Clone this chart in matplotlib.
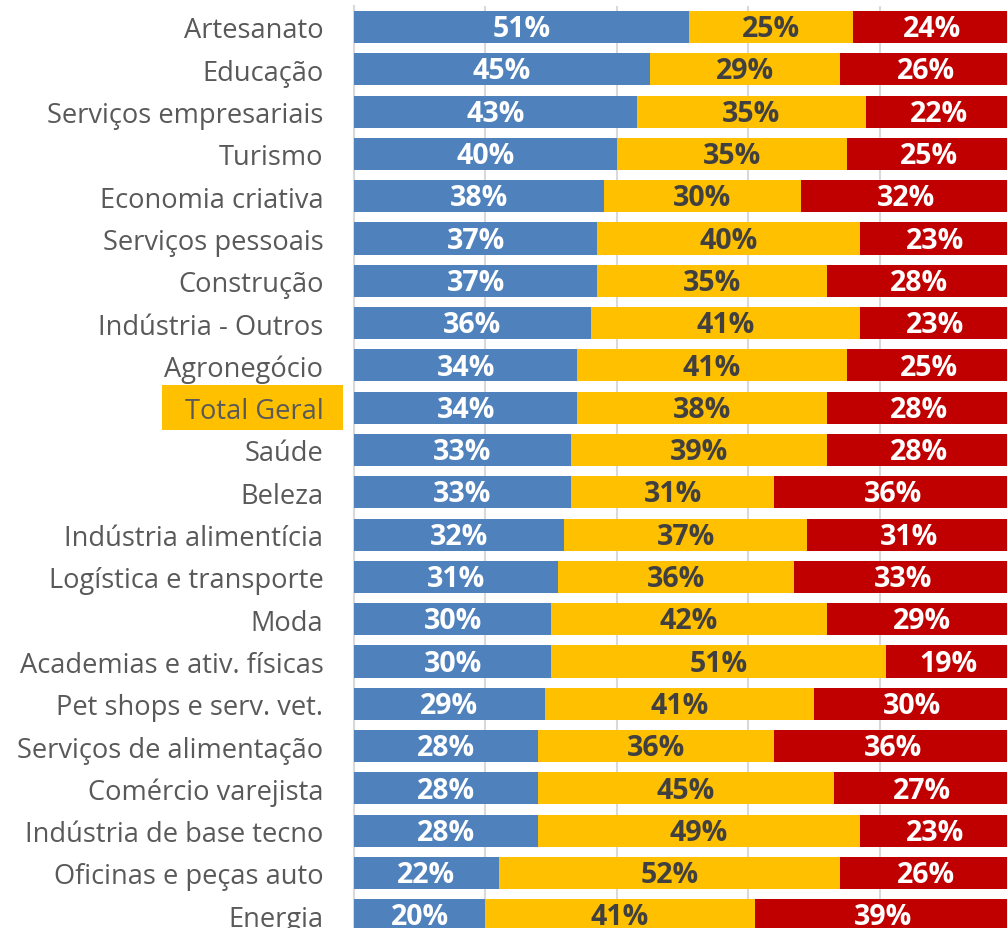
import matplotlib
matplotlib.use("Agg")
import matplotlib.pyplot as plt
from matplotlib.patches import Rectangle
import matplotlib.transforms as mtransforms

categories = ["Artesanato", "Educação", "Serviços empresariais", "Turismo",
              "Economia criativa", "Serviços pessoais", "Construção",
              "Indústria - Outros", "Agronegócio", "Total Geral", "Saúde",
              "Beleza", "Indústria alimentícia", "Logística e transporte",
              "Moda", "Academias e ativ. físicas", "Pet shops e serv. vet.",
              "Serviços de alimentação", "Comércio varejista",
              "Indústria de base tecno", "Oficinas e peças auto", "Energia"]
blue_vals = [51, 45, 43, 40, 38, 37, 37, 36, 34, 34, 33, 33, 32, 31, 30, 30, 29, 28, 28, 28, 22, 20]
yellow_vals = [25, 29, 35, 35, 30, 40, 35, 41, 41, 38, 39, 31, 37, 36, 42, 51, 41, 36, 45, 49, 52, 41]
red_vals = [24, 26, 22, 25, 32, 23, 28, 23, 25, 28, 28, 36, 31, 33, 29, 19, 30, 36, 27, 23, 26, 39]
highlight = "Total Geral"

BLUE = "#4F81BD"
YELLOW = "#FFC000"
RED = "#C00000"
TXT = "#595959"

plt.rcParams['font.family'] = ['Open Sans', 'DejaVu Sans']

W, H = 1007, 929
fig = plt.figure(figsize=(W / 100, H / 100), dpi=100)
row_px = 42.3
n = len(categories)
ax_top = 6.85
ax_h = n * row_px
ax_left = 354
ax_w = 657
ax = fig.add_axes([ax_left / W, (H - ax_top - ax_h) / H, ax_w / W, ax_h / H])

y = list(range(n))
bh = 0.76
left2 = [b for b in blue_vals]
left3 = [b + yv for b, yv in zip(blue_vals, yellow_vals)]
ax.barh(y, blue_vals, height=bh, color=BLUE, zorder=3)
ax.barh(y, yellow_vals, left=left2, height=bh, color=YELLOW, zorder=3)
ax.barh(y, red_vals, left=left3, height=bh, color=RED, zorder=3)

fs_lab = 19.6
fs_val = 20.5
dy = 0.04
for i in range(n):
    ax.text(blue_vals[i] / 2, i + dy, f"{blue_vals[i]}%", ha="center", va="center",
            color="white", fontsize=fs_val, fontweight="bold", zorder=4)
    ax.text(left2[i] + yellow_vals[i] / 2, i + dy, f"{yellow_vals[i]}%", ha="center", va="center",
            color="#404040", fontsize=fs_val, fontweight="bold", zorder=4)
    ax.text(left3[i] + red_vals[i] / 2, i + dy, f"{red_vals[i]}%", ha="center", va="center",
            color="white", fontsize=fs_val, fontweight="bold", zorder=4)

ax.set_xlim(0, 100)
ax.set_ylim(n - 0.5, -0.5)
ax.set_xticks([0, 20, 40, 60, 80, 100])
ax.xaxis.grid(True, color="#D9D9D9", linewidth=1.5, zorder=0)
ax.tick_params(axis="x", bottom=False, labelbottom=False)
ax.set_yticks(y)
ax.set_yticklabels(categories, fontsize=fs_lab, color=TXT)
ax.tick_params(axis="y", length=0, pad=22)
for s in ["top", "right", "bottom"]:
    ax.spines[s].set_visible(False)
ax.spines["left"].set_color("#D9D9D9")
ax.spines["left"].set_linewidth(1.5)

hi = categories.index(highlight)
trans = mtransforms.blended_transform_factory(ax.transAxes, ax.transData)
ax.add_patch(Rectangle((-0.292, hi - 0.53), 0.275, 1.06, transform=trans,
                       facecolor=YELLOW, edgecolor="none", clip_on=False, zorder=0))

fig.savefig("out.png", dpi=100)
